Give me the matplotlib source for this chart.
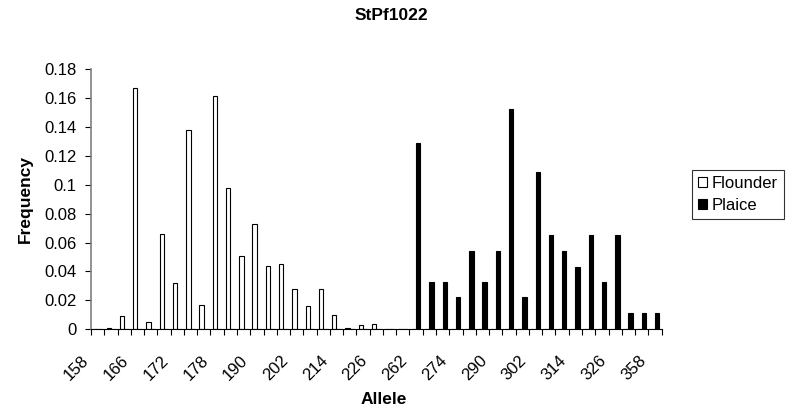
import numpy as np
import matplotlib
matplotlib.use('Agg')
import matplotlib.pyplot as plt
import matplotlib.transforms as mtransforms
from matplotlib.patches import Patch
from matplotlib.ticker import FuncFormatter

plt.rcParams['font.family'] = ['Liberation Sans', 'DejaVu Sans']

# allele sizes (only every third one is labelled on the axis)
alleles = [158, 162, 164, 166, 168, 170, 172, 174, 176, 178, 182, 186, 190,
           194, 198, 202, 206, 210, 214, 218, 222, 226, 230, 258, 262, 266,
           270, 274, 278, 286, 290, 294, 298, 302, 306, 310, 314, 318, 322,
           326, 334, 346, 358]

flounder = [0, 0.001, 0.009, 0.167, 0.005, 0.066, 0.032, 0.138, 0.017, 0.161,
            0.098, 0.051, 0.073, 0.044, 0.045, 0.028, 0.016, 0.028, 0.010,
            0.001, 0.003, 0.004] + [0] * 21

plaice = [0] * 24 + [0.129, 0.033, 0.033, 0.022, 0.054, 0.033, 0.054, 0.152,
                     0.022, 0.109, 0.065, 0.054, 0.043, 0.065, 0.033, 0.065,
                     0.011, 0.011, 0.011]

W, H = 789, 413
fig = plt.figure(figsize=(W / 100, H / 100), dpi=100)
ax = fig.add_axes([91 / W, 1 - 329.3 / H, (661.6 - 91) / W, (329.3 - 69) / H])

x = np.arange(len(alleles))
bw = 0.33
ax.bar(x - bw / 2, flounder, bw, color='white', edgecolor='black', linewidth=0.8)
ax.bar(x + bw / 2, plaice, bw, color='black', edgecolor='black', linewidth=0.8)

ax.set_xlim(-0.5, len(alleles) - 0.5)
ax.set_ylim(0, 0.18)
ax.set_yticks(np.arange(0, 0.181, 0.02))
ax.yaxis.set_major_formatter(FuncFormatter(lambda v, p: '%g' % round(v, 2)))

# tick marks at category boundaries, labels on every third category
ax.set_xticks(np.arange(-0.5, len(alleles), 1))
ax.set_xticklabels([])
lab_pos = x[::3]
ax.set_xticks(lab_pos, minor=True)
ax.set_xticklabels([str(alleles[i]) for i in lab_pos], minor=True,
                   rotation=45, ha='right', va='top', fontsize=12)
ax.tick_params(axis='x', which='minor', length=0, pad=17)
ax.tick_params(axis='x', which='major', length=4.5, width=0.8, direction='out')
ax.tick_params(axis='y', length=4.5, width=0.8, labelsize=12, pad=6)
shift = mtransforms.ScaledTranslation(-6 / 100, 0, fig.dpi_scale_trans)
for lab in ax.xaxis.get_minorticklabels():
    lab.set_transform(lab.get_transform() + shift)

for s in ['top', 'right']:
    ax.spines[s].set_visible(False)
ax.spines['left'].set_color('#808080')
ax.spines['left'].set_linewidth(1.2)
ax.spines['bottom'].set_color('black')
ax.spines['bottom'].set_linewidth(0.8)

ax.set_ylabel('Frequency', fontsize=12.5, fontweight='bold', labelpad=8)
fig.text(383.5 / W, 1 - 399 / H, 'Allele', fontsize=12.5, fontweight='bold',
         ha='center', va='center')
fig.text(391.5 / W, 1 - 15 / H, 'StPf1022', fontsize=12.5, fontweight='bold',
         ha='center', va='center')

handles = [Patch(facecolor='white', edgecolor='black', linewidth=0.8),
           Patch(facecolor='black', edgecolor='black', linewidth=0.8)]
leg = fig.legend(handles, ['Flounder', 'Plaice'], loc='upper left',
                 bbox_to_anchor=(691.7 / W, 1 - 170 / H), fontsize=12,
                 frameon=True, fancybox=False, borderaxespad=0,
                 handlelength=0.55, handleheight=0.55, handletextpad=0.3,
                 borderpad=0.35, labelspacing=0.45)
leg.get_frame().set_edgecolor('black')
leg.get_frame().set_linewidth(0.8)

fig.savefig('out.png', dpi=100)
